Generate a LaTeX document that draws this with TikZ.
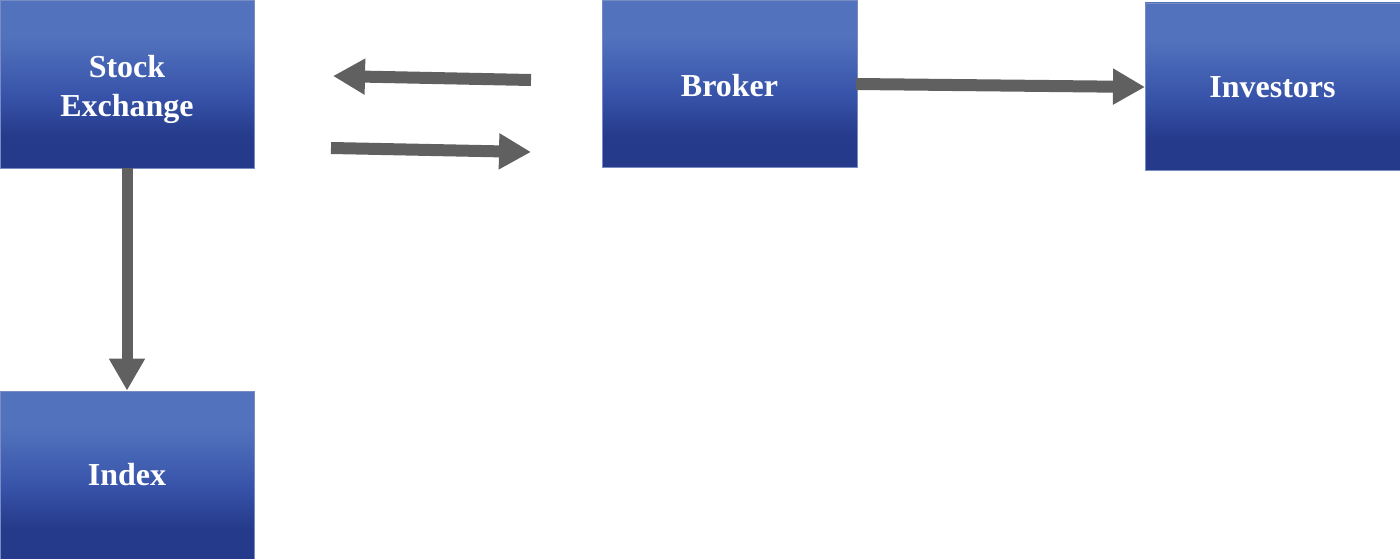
\documentclass[tikz,border=0pt]{standalone}
\usepackage{fontspec}
\setmainfont{Liberation Serif}
\usetikzlibrary{arrows.meta}
\definecolor{boxL}{RGB}{82,114,189}
\definecolor{boxM}{RGB}{56,84,170}
\definecolor{boxD}{RGB}{37,58,138}
\definecolor{boxEdge}{RGB}{120,140,195}
\definecolor{arrowGray}{RGB}{96,96,96}
\pgfdeclareverticalshading{boxshade}{100bp}{color(0bp)=(boxD); color(25bp)=(boxD); color(34bp)=(boxD); color(47bp)=(boxM); color(64bp)=(boxL); color(75bp)=(boxL); color(100bp)=(boxL)}
\tikzset{
  bluebox/.style={rectangle, shading=boxshade, draw=boxEdge, line width=0.8pt,
    inner sep=0pt, text=white, align=center, text depth=0pt,
    font=\fontsize{32}{39}\selectfont\bfseries},
  bigarrow/.style={draw=arrowGray, line width=12pt,
    -{Triangle[length=32pt,width=34pt]}}
}
\begin{document}
\begin{tikzpicture}[x=1pt,y=-1pt]
\useasboundingbox (0,0) rectangle (1400,559);
\node[bluebox, minimum width=254pt, minimum height=168pt, text height=66pt] (se) at (127,84) {Stock\\Exchange};
\node[bluebox, minimum width=255pt, minimum height=167pt, text height=27pt] (broker) at (729.5,83.5) {Broker};
\node[bluebox, minimum width=255pt, minimum height=167pt, text height=23pt] (inv) at (1272.5,86.5) {Investors};
\node[bluebox, minimum width=254pt, minimum height=168pt, text height=20pt] (index) at (127,475) {Index};
\coordinate (la) at (531,80);
\coordinate (lb) at (333,76);
\coordinate (ra) at (331,148);
\coordinate (rb) at (531,152);
\coordinate (ba) at (856,84);
\coordinate (bb) at (1145,87);
\draw[bigarrow] (la) -- (lb);
\draw[bigarrow] (ra) -- (rb);
\draw[bigarrow] (ba) -- (bb);
\draw[bigarrow, line width=11pt] (se.south) -- (index.north);
\end{tikzpicture}
\end{document}
